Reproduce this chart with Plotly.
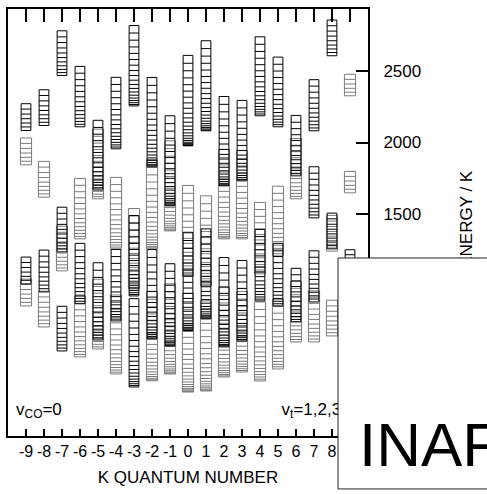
import plotly.graph_objects as go

# ---------------- data ----------------
B_ROT = 1.25  # rotational constant (K) used to place the J rungs of each ladder

ladder_K = [-9, -9, -9, -9,
            -8, -8, -8, -8,
            -7, -7, -7, -7,
            -6, -6, -6, -6,
            -5, -5, -5, -5,
            -4, -4, -4, -4,
            -3, -3, -3, -3,
            -2, -2, -2, -2,
            -1, -1, -1, -1,
            0, 0, 0, 0,
            1, 1, 1, 1,
            2, 2, 2, 2,
            3, 3, 3, 3,
            4, 4, 4, 4,
            5, 5, 5, 5,
            6, 6, 6, 6,
            7, 7, 7, 7,
            8, 8, 8, 8,
            9, 9, 9]
ladder_E_low = [2084, 1844, 1011, 857,
                2119, 1618, 955, 710,
                2469, 1235, 1102, 542,
                2110, 1326, 872, 500,
                1668, 1606, 619, 556,
                1956, 1256, 752, 381,
                2256, 927, 976, 290,
                1830, 1256, 626, 333,
                1557, 1382, 577, 381,
                1977, 1067, 682, 255,
                2082, 997, 766, 262,
                1697, 1326, 570, 360,
                1732, 1326, 612, 395,
                2187, 1081, 892, 332,
                2110, 1207, 857, 416,
                1767, 1606, 745, 605,
                2082, 1473, 885, 605,
                2607, 1256, 1240, 647,
                2327, 1648, 1100]
ladder_E_high = [2259, 2021, 1186, 1032,
                 2388, 1881, 1228, 977,
                 2784, 1536, 1417, 871,
                 2509, 1739, 1291, 907,
                 2151, 2116, 1137, 1060,
                 2476, 1767, 1256, 920,
                 2845, 1480, 1522, 885,
                 2434, 1865, 1256, 977,
                 2214, 2039, 1137, 1025,
                 2621, 1690, 1347, 920,
                 2726, 1627, 1410, 906,
                 2320, 1970, 1200, 1011,
                 2313, 1921, 1186, 977,
                 2719, 1585, 1410, 871,
                 2586, 1676, 1305, 906,
                 2179, 2039, 1116, 1025,
                 2440, 1844, 1263, 962,
                 2866, 1522, 1500, 906,
                 2474, 1795, 1263]
# 1 = dark ladder, 0 = light (grey) ladder
ladder_dark = [1, 0, 1, 0,
               1, 0, 1, 0,
               1, 1, 0, 1,
               1, 0, 1, 0,
               1, 0, 1, 0,
               1, 0, 1, 0,
               1, 1, 0, 1,
               1, 0, 1, 0,
               1, 0, 1, 0,
               1, 0, 1, 0,
               1, 0, 1, 0,
               1, 0, 1, 0,
               1, 0, 1, 0,
               1, 0, 1, 0,
               1, 0, 1, 0,
               1, 0, 1, 0,
               1, 1, 1, 0,
               1, 1, 0, 0,
               0, 0, 1]

k_ticks = list(range(-9, 10))
k_tick_text = [str(k) for k in k_ticks]  # plain hyphen-minus as in the figure
e_ticks = [0, 500, 1000, 1500, 2000, 2500]
e_tick_text = [str(v) for v in e_ticks]

X_RANGE = [-10, 10]
Y_RANGE = [-53, 2934]
FONT = "Liberation Sans, Arial, Helvetica, sans-serif"


def ladder_segments(k, e0, etop, hw):
    j0 = abs(k)
    levels = []
    j = j0
    while True:
        e = e0 + B_ROT * (j * (j + 1) - j0 * (j0 + 1))
        if j > j0 and e > etop + B_ROT * j:
            break
        levels.append(e)
        j += 1
    top = levels[-1]
    xs = [k - hw, k - hw, None, k + hw, k + hw, None]
    ys = [e0, top, None, e0, top, None]
    for e in levels:
        xs += [k - hw, k + hw, None]
        ys += [e, e, None]
    return xs, ys


gx, gy, bx, by = [], [], [], []
for k, lo, hi, d in zip(ladder_K, ladder_E_low, ladder_E_high, ladder_dark):
    if d:
        xs, ys = ladder_segments(k, lo, hi, 0.27)
        bx += xs
        by += ys
    else:
        xs, ys = ladder_segments(k, lo, hi, 0.31)
        gx += xs
        gy += ys

fig = go.Figure()
fig.add_trace(go.Scatter(x=gx, y=gy, mode="lines", line=dict(color="#7a7a7a", width=1),
                         hoverinfo="skip", showlegend=False))
fig.add_trace(go.Scatter(x=bx, y=by, mode="lines", line=dict(color="#000000", width=1),
                         hoverinfo="skip", showlegend=False))
# labels inside the frame (drawn as text marks so the logo box can hide them)
fig.add_trace(go.Scatter(x=[-9.55, 5.2], y=[125, 125], mode="text",
                         text=["v<sub>CO</sub>=0", "v<sub>t</sub>=1,2,3"],
                         textposition="middle right",
                         textfont=dict(family=FONT, size=17, color="black"),
                         hoverinfo="skip", showlegend=False))

fig.update_layout(
    width=487, height=494,
    margin=dict(l=8, r=119, t=9, b=58, autoexpand=False),
    paper_bgcolor="white", plot_bgcolor="white",
    font=dict(family=FONT, color="black"),
    showlegend=False,
    xaxis=dict(range=X_RANGE, tickmode="array", tickvals=k_ticks, ticktext=k_tick_text,
               ticks="inside", ticklen=7, tickwidth=1.6, tickcolor="black",
               showline=True, linewidth=2, linecolor="black", mirror=True,
               showgrid=False, zeroline=False, tickfont=dict(size=16), automargin=False,
               title=dict(text="K QUANTUM NUMBER", font=dict(size=17), standoff=12)),
    xaxis2=dict(range=X_RANGE, overlaying="x", side="top", anchor="y",
                tickmode="array", tickvals=k_ticks, ticks="inside", ticklen=13,
                tickwidth=1.6, tickcolor="black", showticklabels=False, automargin=False,
                showline=False, showgrid=False, zeroline=False),
    yaxis=dict(range=Y_RANGE, side="right", tickmode="array", tickvals=e_ticks,
               ticktext=e_tick_text, ticks="inside", ticklen=12, tickwidth=1.6,
               tickcolor="black", showline=True, linewidth=2, linecolor="black",
               mirror=True, showgrid=False, zeroline=False, tickfont=dict(size=17),
               ticklabelstandoff=10, automargin=False),
    yaxis2=dict(range=Y_RANGE, overlaying="y", side="right", anchor="free", position=1,
                tickmode="array", tickvals=[1445], ticktext=["ENERGY / K"],
                tickangle=-90, ticks="", showline=False, showgrid=False, automargin=False,
                zeroline=False, tickfont=dict(size=17), ticklabelstandoff=86),
)
# dummy trace on the overlay axes so they are drawn
fig.add_trace(go.Scatter(x=[None], y=[None], xaxis="x2", yaxis="y2", showlegend=False,
                         hoverinfo="skip"))

# logo box covering the lower right corner
fig.add_shape(type="rect", xref="paper", yref="paper",
              x0=0.9167, x1=1.36, y0=-0.124, y1=0.4169,
              line=dict(color="#222222", width=1), fillcolor="white", layer="above")
fig.add_annotation(xref="paper", yref="paper", x=0.9685, y=-0.021,
                   xanchor="left", yanchor="middle", showarrow=False,
                   text="INAF", font=dict(family=FONT, size=62, color="black"))

fig.write_html("out.html")
